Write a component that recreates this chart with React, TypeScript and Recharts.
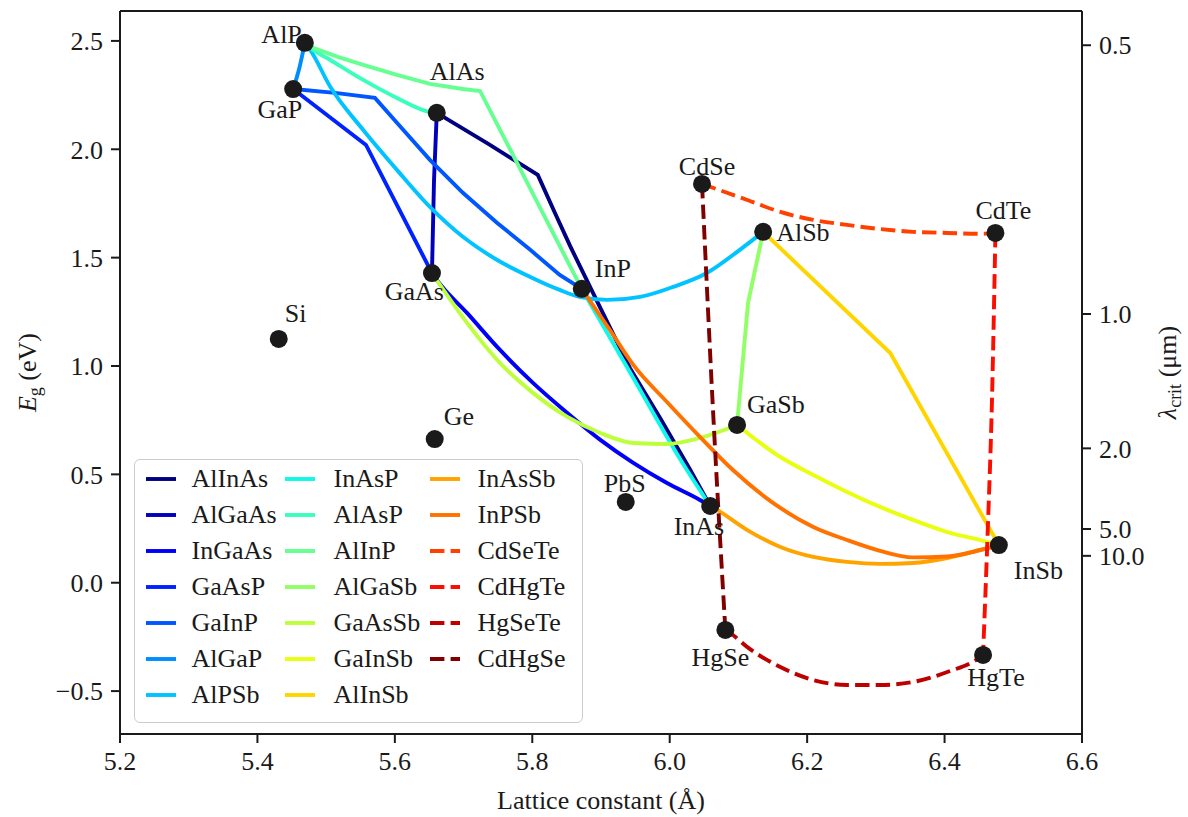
import React from "react";
import {
  ComposedChart,
  Line,
  Scatter,
  XAxis,
  YAxis,
  Legend,
  ReferenceLine,
} from "recharts";

type XY = [number, number];

const FONT = '"Liberation Serif", "Times New Roman", serif';
const INK = "#1a1a1a";
const FONT_SIZE = 26;

// binary compounds: lattice constant (Å) and band gap (eV)
const binaryNames = ["AlP", "GaP", "AlAs", "GaAs", "InP", "Si", "Ge", "PbS", "InAs", "GaSb", "AlSb", "CdSe", "CdTe", "InSb", "HgSe", "HgTe"];
const binaryLattice = [5.469, 5.452, 5.661, 5.654, 5.872, 5.431, 5.658, 5.936, 6.059, 6.098, 6.136, 6.047, 6.474, 6.479, 6.081, 6.456];
const binaryGap = [2.491, 2.278, 2.168, 1.429, 1.356, 1.125, 0.663, 0.373, 0.354, 0.728, 1.619, 1.84, 1.614, 0.174, -0.218, -0.333];

// ternary alloys, traced from one binary end point to the other
const AlInAs: XY[] = [[5.661, 2.168], [5.736, 2.025], [5.808, 1.882], [5.833, 1.706], [5.855, 1.554], [5.899, 1.268], [5.942, 0.991], [5.986, 0.76], [6.03, 0.52], [6.059, 0.354]];
const AlGaAs: XY[] = [[5.661, 2.168], [5.657, 1.859], [5.654, 1.429]];
const InGaAs: XY[] = [[5.654, 1.429], [5.661, 1.397], [5.705, 1.245], [5.753, 1.074], [5.801, 0.922], [5.851, 0.783], [5.899, 0.659], [5.947, 0.553], [5.996, 0.46], [6.044, 0.382], [6.059, 0.354]];
const GaAsP: XY[] = [[5.452, 2.278], [5.558, 2.02], [5.654, 1.429]];
const GaInP: XY[] = [[5.452, 2.278], [5.513, 2.26], [5.571, 2.237], [5.603, 2.122], [5.651, 1.951], [5.699, 1.799], [5.749, 1.66], [5.797, 1.536], [5.84, 1.42], [5.872, 1.356]];
const AlGaP: XY[] = [[5.469, 2.491], [5.461, 2.375], [5.452, 2.278]];
const AlPSb: XY[] = [[5.469, 2.491], [5.477, 2.458], [5.506, 2.288], [5.554, 2.089], [5.603, 1.905], [5.651, 1.734], [5.699, 1.596], [5.749, 1.489], [5.797, 1.411], [5.84, 1.351], [5.869, 1.319], [5.909, 1.305], [5.957, 1.319], [6.005, 1.365], [6.054, 1.429], [6.102, 1.536], [6.136, 1.619]];
const InAsP: XY[] = [[5.872, 1.356], [5.947, 0.945], [6.015, 0.571], [6.059, 0.354]];
const AlAsP: XY[] = [[5.469, 2.491], [5.477, 2.468], [5.506, 2.412], [5.554, 2.32], [5.603, 2.237], [5.651, 2.172], [5.661, 2.168]];
const AlInP: XY[] = [[5.469, 2.491], [5.481, 2.468], [5.518, 2.425], [5.554, 2.389], [5.603, 2.343], [5.651, 2.302], [5.699, 2.278], [5.724, 2.269], [5.872, 1.356]];
const AlGaSb: XY[] = [[6.136, 1.619], [6.114, 1.291], [6.098, 0.728]];
const GaAsSb: XY[] = [[5.654, 1.429], [5.705, 1.199], [5.753, 1.014], [5.801, 0.876], [5.851, 0.765], [5.899, 0.691], [5.947, 0.645], [5.996, 0.64], [6.044, 0.668], [6.098, 0.728]];
const GaInSb: XY[] = [[6.098, 0.728], [6.161, 0.58], [6.209, 0.497], [6.258, 0.419], [6.306, 0.35], [6.354, 0.29], [6.404, 0.234], [6.452, 0.197], [6.479, 0.174]];
const AlInSb: XY[] = [[6.136, 1.619], [6.321, 1.06], [6.479, 0.174]];
const InAsSb: XY[] = [[6.059, 0.354], [6.069, 0.336], [6.113, 0.243], [6.161, 0.165], [6.209, 0.119], [6.258, 0.096], [6.306, 0.087], [6.354, 0.091], [6.404, 0.114], [6.452, 0.151], [6.479, 0.174]];
const InPSb: XY[] = [[5.872, 1.356], [5.913, 1.166], [5.947, 1.005], [5.996, 0.834], [6.044, 0.673], [6.092, 0.52], [6.161, 0.345], [6.209, 0.257], [6.258, 0.197], [6.306, 0.147], [6.354, 0.117], [6.404, 0.121], [6.452, 0.151], [6.479, 0.174]];
const CdSeTe: XY[] = [[6.047, 1.84], [6.113, 1.766], [6.161, 1.711], [6.209, 1.674], [6.258, 1.651], [6.306, 1.632], [6.354, 1.619], [6.404, 1.614], [6.452, 1.61], [6.474, 1.614]];
const CdHgTe: XY[] = [[6.474, 1.614], [6.469, 0.843], [6.463, 0.257], [6.456, -0.333]];
const HgSeTe: XY[] = [[6.081, -0.218], [6.088, -0.232], [6.113, -0.297], [6.161, -0.389], [6.209, -0.449], [6.258, -0.472], [6.306, -0.472], [6.354, -0.458], [6.404, -0.412], [6.452, -0.343], [6.456, -0.333]];
const CdHgSe: XY[] = [[6.047, 1.84], [6.063, 0.797], [6.081, -0.218]];

const alloyNames = ["AlInAs", "AlGaAs", "InGaAs", "GaAsP", "GaInP", "AlGaP", "AlPSb", "InAsP", "AlAsP", "AlInP", "AlGaSb", "GaAsSb", "GaInSb", "AlInSb", "InAsSb", "InPSb", "CdSeTe", "CdHgTe", "HgSeTe", "CdHgSe"];
const alloyCurves = [AlInAs, AlGaAs, InGaAs, GaAsP, GaInP, AlGaP, AlPSb, InAsP, AlAsP, AlInP, AlGaSb, GaAsSb, GaInSb, AlInSb, InAsSb, InPSb, CdSeTe, CdHgTe, HgSeTe, CdHgSe];

// alloys with a direct/indirect crossover keep their corner, so no smoothing
const kinkedAlloys = new Set(["AlInAs", "AlGaAs", "GaAsP", "GaInP", "AlInP", "AlGaSb", "AlInSb"]);

// jet colormap sampled at 20 steps
const alloyColors = ["#000080", "#0000bd", "#0000f9", "#0022ff", "#0057ff", "#008dff", "#00c3ff", "#0ff8e8", "#3affbc", "#66ff91", "#91ff66", "#bcff3a", "#e8ff0f", "#ffd500", "#ffa300", "#ff7200", "#ff4000", "#f90e00", "#bd0000", "#800000"];
const FIRST_DASHED = 16; // II-VI alloys are drawn dashed
const DASH = "14.4 6.2";

const xTicks = [5.2, 5.4, 5.6, 5.8, 6.0, 6.2, 6.4, 6.6];
const yTicks = [-0.5, 0, 0.5, 1.0, 1.5, 2.0, 2.5];
const lambdaTicks = [0.5, 1.0, 2.0, 5.0, 10.0]; // µm
const HC = 1.24; // eV·µm

const X_DOMAIN: [number, number] = [5.2, 6.6];
const Y_MIN = -0.698;
const Y_MAX = 2.638;

// text placement of each compound label around its marker
const labelPlacement: Record<string, { dx: number; dy: number; anchor: "start" | "middle" | "end" }> = {
  AlP: { dx: -3, dy: 0, anchor: "end" },
  GaP: { dx: 9, dy: 29, anchor: "end" },
  AlAs: { dx: -7, dy: -33, anchor: "start" },
  GaAs: { dx: 12, dy: 27, anchor: "end" },
  InP: { dx: 13, dy: -12, anchor: "start" },
  Si: { dx: 6, dy: -17, anchor: "start" },
  Ge: { dx: 9, dy: -14, anchor: "start" },
  PbS: { dx: -1, dy: -10, anchor: "middle" },
  InAs: { dx: 14, dy: 29, anchor: "end" },
  GaSb: { dx: 10, dy: -12, anchor: "start" },
  AlSb: { dx: 13, dy: 9, anchor: "start" },
  CdSe: { dx: 5, dy: -9, anchor: "middle" },
  CdTe: { dx: 8, dy: -14, anchor: "middle" },
  InSb: { dx: 15, dy: 34, anchor: "start" },
  HgSe: { dx: -5, dy: 36, anchor: "middle" },
  HgTe: { dx: 13, dy: 31, anchor: "middle" },
};

const binaries = binaryNames.map((name, i) => ({ name, x: binaryLattice[i], y: binaryGap[i] }));

const fmt = (v: number) => (v < 0 ? "\u2212" + Math.abs(v).toFixed(1) : v.toFixed(1));

const tickStyle = { fontSize: FONT_SIZE, fontFamily: FONT, fill: INK };
const axisLineStyle = { stroke: INK, strokeWidth: 2 };

const BinaryMarker = (props: any) => {
  const { cx, cy, payload } = props;
  const p = labelPlacement[payload.name];
  return (
    <g>
      <circle cx={cx} cy={cy} r={9} fill={INK} />
      <text
        x={cx + p.dx}
        y={cy + p.dy}
        textAnchor={p.anchor}
        fontSize={FONT_SIZE}
        fontFamily={FONT}
        fill={INK}
      >
        {payload.name}
      </text>
    </g>
  );
};

// legend column offsets: handle start, text start
const legendCols = [
  [12, 58],
  [151, 200],
  [296, 344],
];

const LegendBox = () => (
  <div
    style={{
      position: "relative",
      width: 449,
      height: 264,
      boxSizing: "border-box",
      border: "1.5px solid #cccccc",
      borderRadius: 6,
      background: "rgba(255,255,255,0.8)",
      fontFamily: FONT,
      fontSize: FONT_SIZE,
      color: INK,
    }}
  >
    {alloyNames.map((name, i) => {
      const col = Math.floor(i / 7);
      const row = i % 7;
      const top = 20 + row * 36 - 18;
      return (
        <React.Fragment key={name}>
          <svg
            width={30}
            height={36}
            style={{ position: "absolute", left: legendCols[col][0] - 1.5, top: top - 1.5 }}
          >
            <line
              x1={0}
              x2={30}
              y1={18}
              y2={18}
              stroke={alloyColors[i]}
              strokeWidth={3.9}
              strokeDasharray={i >= FIRST_DASHED ? DASH : undefined}
            />
          </svg>
          <div
            style={{
              position: "absolute",
              left: legendCols[col][1] - 1.5,
              top: top - 1.5,
              height: 36,
              display: "flex",
              alignItems: "center",
              lineHeight: 1,
              whiteSpace: "nowrap",
            }}
          >
            {name}
          </div>
        </React.Fragment>
      );
    })}
  </div>
);

const XLabel = ({ viewBox }: any) => (
  <text
    x={viewBox.x + viewBox.width / 2}
    y={viewBox.y + 75}
    textAnchor="middle"
    fontSize={FONT_SIZE}
    fontFamily={FONT}
    fill={INK}
  >
    Lattice constant (Å)
  </text>
);

const EnergyLabel = ({ viewBox }: any) => {
  const x0 = viewBox.x + 36;
  const y0 = viewBox.y + viewBox.height / 2;
  return (
    <text
      x={x0}
      y={y0}
      transform={`rotate(-90, ${x0}, ${y0})`}
      textAnchor="middle"
      fontSize={FONT_SIZE}
      fontFamily={FONT}
      fill={INK}
    >
      <tspan fontStyle="italic">E</tspan>
      <tspan dy={5} fontSize={18}>g</tspan>
      <tspan dy={-5}> (eV)</tspan>
    </text>
  );
};

const LambdaLabel = ({ viewBox }: any) => {
  const x0 = viewBox.x + 94;
  const y0 = viewBox.y + viewBox.height / 2;
  return (
    <text
      x={x0}
      y={y0}
      transform={`rotate(-90, ${x0}, ${y0})`}
      textAnchor="middle"
      fontSize={FONT_SIZE}
      fontFamily={FONT}
      fill={INK}
    >
      <tspan fontStyle="italic">λ</tspan>
      <tspan dy={5} fontSize={18}>crit</tspan>
      <tspan dy={-5}> (μm)</tspan>
    </text>
  );
};

export default function App() {
  return (
    <div style={{ position: "absolute", left: 0, top: 0, background: "#fff" }}>
      <ComposedChart
        width={1188}
        height={817}
        margin={{ top: 11, right: 0, bottom: 0, left: 0 }}
        style={{ fontFamily: FONT }}
      >
        <XAxis
          dataKey="x"
          type="number"
          domain={X_DOMAIN}
          ticks={xTicks}
          interval={0}
          allowDataOverflow
          height={83}
          tickSize={9}
          tickMargin={9}
          tickFormatter={fmt}
          tick={tickStyle}
          axisLine={axisLineStyle}
          tickLine={axisLineStyle}
          label={{ content: XLabel }}
        />
        <YAxis
          yAxisId="left"
          type="number"
          domain={[Y_MIN, Y_MAX]}
          ticks={yTicks}
          interval={0}
          allowDataOverflow
          width={120}
          tickSize={9}
          tickMargin={8}
          tickFormatter={fmt}
          tick={tickStyle}
          axisLine={axisLineStyle}
          tickLine={axisLineStyle}
          label={{ content: EnergyLabel }}
        />
        <YAxis
          yAxisId="right"
          orientation="right"
          type="number"
          domain={[Y_MIN, Y_MAX]}
          ticks={lambdaTicks.map((l) => HC / l)}
          interval={0}
          allowDataOverflow
          width={106}
          tickSize={9}
          tickMargin={8}
          tickFormatter={(v: number) => (HC / v).toFixed(1)}
          tick={tickStyle}
          axisLine={axisLineStyle}
          tickLine={axisLineStyle}
          label={{ content: LambdaLabel }}
        />
        <ReferenceLine yAxisId="right" y={Y_MAX} stroke={INK} strokeWidth={2} />

        {alloyCurves.map((curve, i) => (
          <Line
            key={alloyNames[i]}
            yAxisId="left"
            name={alloyNames[i]}
            data={curve.map(([x, y]) => ({ x, y }))}
            dataKey="y"
            type={kinkedAlloys.has(alloyNames[i]) ? "linear" : "monotone"}
            stroke={alloyColors[i]}
            strokeWidth={3.9}
            strokeDasharray={i >= FIRST_DASHED ? DASH : undefined}
            dot={false}
            activeDot={false}
            isAnimationActive={false}
          />
        ))}

        <Scatter
          yAxisId="left"
          name="binaries"
          data={binaries}
          dataKey="y"
          fill={INK}
          shape={BinaryMarker}
          legendType="none"
          isAnimationActive={false}
        />

        <Legend
          layout="vertical"
          align="center"
          verticalAlign="middle"
          wrapperStyle={{ left: 134, top: 459, width: 449, height: 264 }}
          content={() => <LegendBox />}
        />
      </ComposedChart>
    </div>
  );
}
